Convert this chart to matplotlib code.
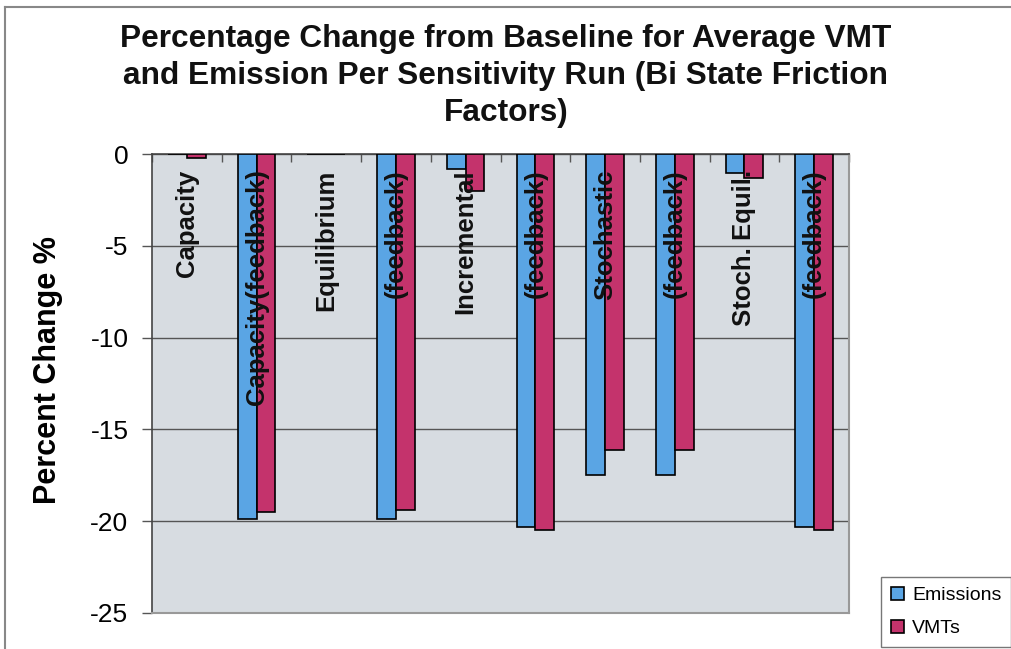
import matplotlib
matplotlib.use("Agg")
import matplotlib.pyplot as plt
import numpy as np
from matplotlib.lines import Line2D

plt.rcParams['font.family'] = ['Liberation Sans', 'DejaVu Sans']

categories = ["Capacity", "Capacity(feedback)", "Equilibrium", "(feedback)",
              "Incremental", "(feedback)", "Stochastic", "(feedback)",
              "Stoch. Equil.", "(feedback)"]
emissions = [0.0, -19.9, 0.0, -19.9, -0.8, -20.3, -17.5, -17.5, -1.05, -20.3]
vmts = [-0.2, -19.5, 0.0, -19.4, -2.0, -20.5, -16.1, -16.1, -1.3, -20.5]
yticks = [0, -5, -10, -15, -20, -25]

fig = plt.figure(figsize=(10.12, 6.49), dpi=100)
ax = fig.add_axes([152 / 1012, 36 / 649, 697 / 1012, 459 / 649])
ax.set_facecolor('#d7dce1')

x = np.arange(len(categories))
w = 0.27
ax.bar(x - w / 2, emissions, w, color='#5aa5e4', edgecolor='black',
       linewidth=1.2, label='Emissions', zorder=3)
ax.bar(x + w / 2, vmts, w, color='#c4336c', edgecolor='black',
       linewidth=1.2, label='VMTs', zorder=3)

ax.set_xlim(-0.5, len(categories) - 0.5)
ax.set_ylim(-25, 0)
ax.set_yticks(yticks)
ax.set_yticklabels([str(v) for v in yticks], fontsize=19)
ax.yaxis.grid(True, color='#555555', linewidth=1.0, zorder=1)
ax.tick_params(axis='y', length=7, width=1, color='#555555', pad=10)

# category boundaries as ticks along the zero line
ax.set_xticks(np.arange(-0.5, len(categories) + 0.5, 1.0))
ax.set_xticklabels([])
ax.xaxis.set_ticks_position('top')
ax.tick_params(axis='x', direction='in', length=6, width=1, color='#555555')

for s in ['left', 'top']:
    ax.spines[s].set_color('#444444')
    ax.spines[s].set_linewidth(1.2)
for s in ['right', 'bottom']:
    ax.spines[s].set_color('#999999')
    ax.spines[s].set_linewidth(1.5)

# rotated category names inside the plot area
for xi, name in zip(x, categories):
    ax.text(xi, -0.85, name, rotation=90, ha='center', va='top',
            fontsize=18.5, fontweight='bold', color='#111111', zorder=4)

ax.set_ylabel('Percent Change %', fontsize=22, fontweight='bold')
ax.yaxis.set_label_coords(-0.127, 0.53)

fig.text(0.5, 1 - 76 / 649,
         'Percentage Change from Baseline for Average VMT\n'
         'and Emission Per Sensitivity Run (Bi State Friction\nFactors)',
         ha='center', va='center', fontsize=22.8, fontweight='bold',
         color='#111111', linespacing=1.32)

leg = ax.legend(loc='lower left', bbox_to_anchor=(881 / 1012, 2 / 649),
                bbox_transform=fig.transFigure, fontsize=14, frameon=True,
                fancybox=False, edgecolor='#555555', handlelength=0.7,
                handleheight=0.7, handletextpad=0.4, borderpad=0.5,
                labelspacing=0.8, borderaxespad=0)
leg.get_frame().set_linewidth(1.0)

# outer frame lines along the top and left edges
fig.add_artist(Line2D([5 / 1012, 1.0], [1 - 7 / 649, 1 - 7 / 649],
                      transform=fig.transFigure, color='#888888', linewidth=1.5))
fig.add_artist(Line2D([5 / 1012, 5 / 1012], [0, 1 - 7 / 649],
                      transform=fig.transFigure, color='#888888', linewidth=1.5))

fig.savefig('out.png', dpi=100)
